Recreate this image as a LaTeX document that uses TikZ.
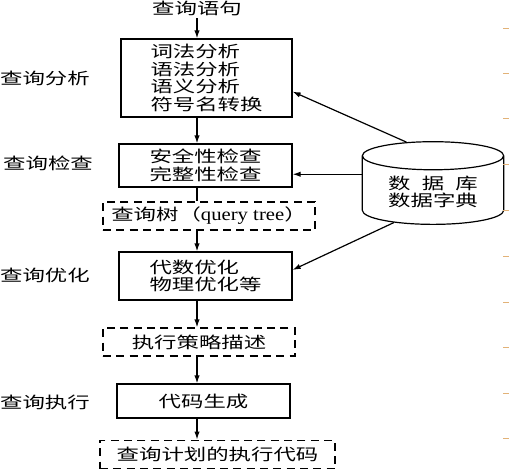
\documentclass[tikz,border=0pt]{standalone}
\usepackage{fontspec}
\newfontfamily\cjk[FakeStretch=1.4]{Noto Sans CJK SC}
\newfontfamily\latn[FakeStretch=1.15]{Liberation Serif}
\usetikzlibrary{arrows.meta,shapes.geometric}
\tikzset{every picture/.style={line width=0.9pt}}
\tikzset{
stage/.style={draw, inner sep=0pt, font=\cjk\fontsize{12}{13.2}\selectfont, align=left},
plan/.style={stage, dash pattern={on 6pt off 4pt}},
side/.style={inner sep=1.5pt, font=\cjk\fontsize{12}{13.2}\selectfont},
flow/.style={-{Latex[length=6pt,width=4pt]}}}
\definecolor{tick}{RGB}{226,178,120}

\begin{document}
\begin{tikzpicture}[x=0.75pt,y=0.75pt,yscale=-1,xscale=1]
\useasboundingbox (0,0) rectangle (509,469);

% Stage boxes
\node (query) [side] at (197,8) {查询语句};
\node (lex) [stage, minimum width=128.25pt, minimum height=58.5pt] at (206.5,78) {词法分析\\语法分析\\语义分析\\符号名转换};
\node (check) [stage, minimum width=129.75pt, minimum height=32.25pt] at (205.5,165.5) {安全性检查\\完整性检查};
\node (tree) [plan, minimum width=159pt, minimum height=21pt] at (209,216) {查询树（{\latn\fontsize{13.5}{13.2}\selectfont query tree}）};
\node (opt) [stage, minimum width=129.75pt, minimum height=36pt] at (205.5,276) {代数优化\\物理优化等};
\node (strategy) [plan, minimum width=144pt, minimum height=21pt] at (199,342) {执行策略描述};
\node (gen) [stage, minimum width=129.75pt, minimum height=25.5pt] at (203.5,401) {代码生成};
\node (code) [plan, minimum width=176.25pt, minimum height=21.5pt] at (217.5,454.5) {查询计划的执行代码};

% Phase labels
\node (analyse) [side] at (45,78) {查询分析};
\node (inspect) [side] at (48,163) {查询检查};
\node (optimise) [side] at (45,275) {查询优化};
\node (execute) [side] at (45,402) {查询执行};

% Data dictionary
\node (db) [cylinder, shape border rotate=90, draw, aspect=0.3, minimum width=106pt, minimum height=62pt, side, align=center] at (433,192) {数\hspace{8.4pt}据\hspace{8.4pt}库\\数据字典};

% Main flow
\draw [flow] (query) -- (lex.north -| query);
\draw [flow] (lex.south -| query) -- (check.north -| query);
\draw (check.south -| query) -- (tree.north -| query);
\draw [flow] (tree.south -| query) -- (opt.north -| query);
\draw [flow] (opt.south -| query) -- (strategy.north -| query);
\draw [flow] (strategy.south -| query) -- (gen.north -| query);
\draw [flow] (gen.south -| query) -- (code.north -| query);

% Dictionary lookups
\draw [flow] (db.118) -- (lex.-9);
\draw [flow] (db.166) -- (db.166 -| check.east);
\draw [flow] (db.218) -- (opt.4);

% Ruler ticks
\draw [tick, line width=0.6pt] (503,28) -- (509,28) (503,73) -- (509,73) (503,118) -- (509,118) (503,164) -- (509,164) (503,210) -- (509,210) (503,256) -- (509,256) (503,302) -- (509,302) (503,347) -- (509,347) (503,393) -- (509,393) (503,438) -- (509,438);

\end{tikzpicture}
\end{document}
